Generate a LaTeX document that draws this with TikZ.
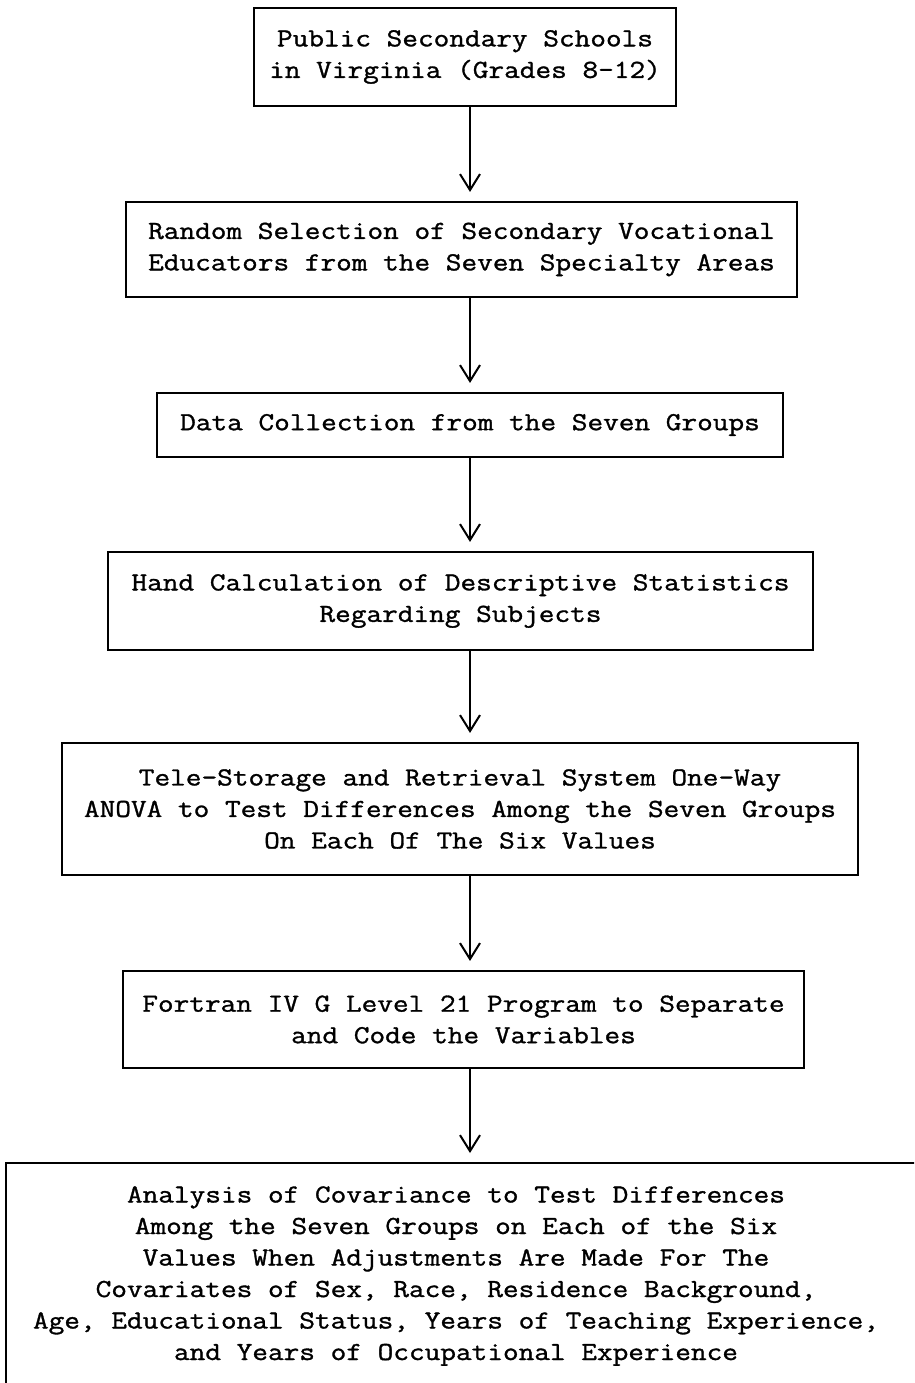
\documentclass[tikz,border=0pt]{standalone}
\usepackage{fontspec}
\setmonofont[FakeStretch=1.17,FakeBold=1.2]{Latin Modern Mono}
\usetikzlibrary{arrows.meta}
\newcommand{\stagefont}{\ttfamily\fontsize{26}{31.5}\selectfont}
\begin{document}
\begin{tikzpicture}[x=1pt,y=1pt,
  stagebox/.style={draw, line width=2.1pt, inner sep=0pt, align=center, font=\stagefont},
  stagetext/.style={inner sep=0pt, align=center, font=\stagefont},
  flow/.style={line width=2pt, -{Straight Barb[length=16pt,width=20pt,line width=2pt]}, shorten >=9pt}]
\useasboundingbox (0,0) rectangle (914,-1383);
\clip (0,0) rectangle (914,-1383);
\coordinate (ax) at (470,0);

% stages of the study, top to bottom
\node[stagebox, minimum width=422pt, minimum height=98pt] (s1) at (465,-57)
  {Public Secondary Schools\\in Virginia (Grades 8-12)};
\node[stagebox, minimum width=671pt, minimum height=95pt] (s2) at (461.5,-249.5)
  {Random Selection of Secondary Vocational\\Educators from the Seven Specialty Areas};
\node[stagebox, minimum width=626pt, minimum height=64pt] (s3) at (470,-425)
  {Data Collection from the Seven Groups};
\node[stagebox, minimum width=705pt, minimum height=98pt] (s4) at (460.5,-601)
  {Hand Calculation of Descriptive Statistics\\Regarding Subjects};
\node[stagebox, minimum width=796pt, minimum height=132pt] (s5) at (460,-809)
  {Tele-Storage and Retrieval System One-Way\\ANOVA to Test Differences Among the Seven Groups\\On Each Of The Six Values};
\node[stagebox, minimum width=681pt, minimum height=97pt] (s6) at (463.5,-1019.5)
  {Fortran IV G Level 21 Program to Separate\\and Code the Variables};

% last stage: frame runs past the page edge
\node[draw, line width=2.1pt, inner sep=0pt, minimum width=925pt, minimum height=240pt,
      anchor=north west] (s7) at (5,-1162) {};
\node[stagetext] (s7text) at (456,-1276)
  {Analysis of Covariance to Test Differences\\Among the Seven Groups on Each of the Six\\Values When Adjustments Are Made For The\\Covariates of Sex, Race, Residence Background,\\Age, Educational Status, Years of Teaching Experience,\\and Years of Occupational Experience};

% connectors
\draw[flow] (s1.south -| ax) -- (s2.north -| ax);
\draw[flow] (s2.south -| ax) -- (s3.north -| ax);
\draw[flow] (s3.south -| ax) -- (s4.north -| ax);
\draw[flow] (s4.south -| ax) -- (s5.north -| ax);
\draw[flow] (s5.south -| ax) -- (s6.north -| ax);
\draw[flow] (s6.south -| ax) -- (s7.north -| ax);
\end{tikzpicture}
\end{document}
